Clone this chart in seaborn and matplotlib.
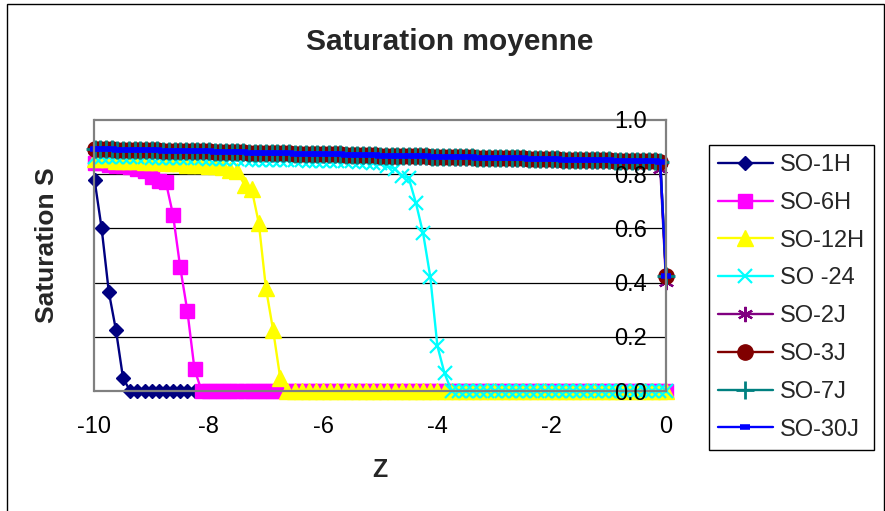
import matplotlib
matplotlib.use("Agg")
import matplotlib.pyplot as plt
import seaborn as sns
from matplotlib.patches import Rectangle

# ---------------- data ----------------
# depth grid of the hourly series (step 0.125)
z_h = [-10.0, -9.875, -9.75, -9.625, -9.5, -9.375, -9.25, -9.125,
       -9.0, -8.875, -8.75, -8.625, -8.5, -8.375, -8.25, -8.125,
       -8.0, -7.875, -7.75, -7.625, -7.5, -7.375, -7.25, -7.125,
       -7.0, -6.875, -6.75, -6.625, -6.5, -6.375, -6.25, -6.125,
       -6.0, -5.875, -5.75, -5.625, -5.5, -5.375, -5.25, -5.125,
       -5.0, -4.875, -4.75, -4.625, -4.5, -4.375, -4.25, -4.125,
       -4.0, -3.875, -3.75, -3.625, -3.5, -3.375, -3.25, -3.125,
       -3.0, -2.875, -2.75, -2.625, -2.5, -2.375, -2.25, -2.125,
       -2.0, -1.875, -1.75, -1.625, -1.5, -1.375, -1.25, -1.125,
       -1.0, -0.875, -0.75, -0.625, -0.5, -0.375, -0.25, -0.125,
       0.0]

# depth grid of the daily series (step 0.1)
z_j = [-10.0, -9.9, -9.8, -9.7, -9.6, -9.5, -9.4, -9.3, -9.2, -9.1,
       -9.0, -8.9, -8.8, -8.7, -8.6, -8.5, -8.4, -8.3, -8.2, -8.1,
       -8.0, -7.9, -7.8, -7.7, -7.6, -7.5, -7.4, -7.3, -7.2, -7.1,
       -7.0, -6.9, -6.8, -6.7, -6.6, -6.5, -6.4, -6.3, -6.2, -6.1,
       -6.0, -5.9, -5.8, -5.7, -5.6, -5.5, -5.4, -5.3, -5.2, -5.1,
       -5.0, -4.9, -4.8, -4.7, -4.6, -4.5, -4.4, -4.3, -4.2, -4.1,
       -4.0, -3.9, -3.8, -3.7, -3.6, -3.5, -3.4, -3.3, -3.2, -3.1,
       -3.0, -2.9, -2.8, -2.7, -2.6, -2.5, -2.4, -2.3, -2.2, -2.1,
       -2.0, -1.9, -1.8, -1.7, -1.6, -1.5, -1.4, -1.3, -1.2, -1.1,
       -1.0, -0.9, -0.8, -0.7, -0.6, -0.5, -0.4, -0.3, -0.2, -0.1,
       0.0]

so_1h = [0.78, 0.60, 0.366, 0.225, 0.047, 0.0, 0.0, 0.0,
         0.0, 0.0, 0.0, 0.0, 0.0, 0.0, 0.0, 0.0,
         0.0, 0.0, 0.0, 0.0, 0.0, 0.0, 0.0, 0.0,
         0.0, 0.0, 0.0, 0.0, 0.0, 0.0, 0.0, 0.0,
         0.0, 0.0, 0.0, 0.0, 0.0, 0.0, 0.0, 0.0,
         0.0, 0.0, 0.0, 0.0, 0.0, 0.0, 0.0, 0.0,
         0.0, 0.0, 0.0, 0.0, 0.0, 0.0, 0.0, 0.0,
         0.0, 0.0, 0.0, 0.0, 0.0, 0.0, 0.0, 0.0,
         0.0, 0.0, 0.0, 0.0, 0.0, 0.0, 0.0, 0.0,
         0.0, 0.0, 0.0, 0.0, 0.0, 0.0, 0.0, 0.0,
         0.0]

so_6h = [0.84, 0.84, 0.835, 0.83, 0.83, 0.825, 0.82, 0.81,
         0.79, 0.775, 0.77, 0.649, 0.456, 0.295, 0.08, 0.0,
         0.0, 0.0, 0.0, 0.0, 0.0, 0.0, 0.0, 0.0,
         0.0, 0.0, 0.0, 0.0, 0.0, 0.0, 0.0, 0.0,
         0.0, 0.0, 0.0, 0.0, 0.0, 0.0, 0.0, 0.0,
         0.0, 0.0, 0.0, 0.0, 0.0, 0.0, 0.0, 0.0,
         0.0, 0.0, 0.0, 0.0, 0.0, 0.0, 0.0, 0.0,
         0.0, 0.0, 0.0, 0.0, 0.0, 0.0, 0.0, 0.0,
         0.0, 0.0, 0.0, 0.0, 0.0, 0.0, 0.0, 0.0,
         0.0, 0.0, 0.0, 0.0, 0.0, 0.0, 0.0, 0.0,
         0.0]

so_12h = [0.855, 0.855, 0.855, 0.85, 0.85, 0.85, 0.85, 0.845,
          0.845, 0.845, 0.84, 0.84, 0.84, 0.835, 0.835, 0.835,
          0.83, 0.83, 0.825, 0.815, 0.81, 0.76, 0.745, 0.619,
          0.379, 0.225, 0.048, 0.0, 0.0, 0.0, 0.0, 0.0,
          0.0, 0.0, 0.0, 0.0, 0.0, 0.0, 0.0, 0.0,
          0.0, 0.0, 0.0, 0.0, 0.0, 0.0, 0.0, 0.0,
          0.0, 0.0, 0.0, 0.0, 0.0, 0.0, 0.0, 0.0,
          0.0, 0.0, 0.0, 0.0, 0.0, 0.0, 0.0, 0.0,
          0.0, 0.0, 0.0, 0.0, 0.0, 0.0, 0.0, 0.0,
          0.0, 0.0, 0.0, 0.0, 0.0, 0.0, 0.0, 0.0,
          0.0]

so_24 = [0.865, 0.865, 0.864, 0.864, 0.863, 0.863, 0.862, 0.862,
         0.861, 0.861, 0.860, 0.860, 0.859, 0.859, 0.858, 0.858,
         0.857, 0.857, 0.856, 0.856, 0.855, 0.855, 0.854, 0.854,
         0.853, 0.853, 0.852, 0.852, 0.851, 0.851, 0.850, 0.850,
         0.849, 0.849, 0.848, 0.848, 0.847, 0.846, 0.845, 0.843,
         0.84, 0.83, 0.82, 0.795, 0.785, 0.693, 0.582, 0.422,
         0.166, 0.065, 0.0, 0.0, 0.0, 0.0, 0.0, 0.0,
         0.0, 0.0, 0.0, 0.0, 0.0, 0.0, 0.0, 0.0,
         0.0, 0.0, 0.0, 0.0, 0.0, 0.0, 0.0, 0.0,
         0.0, 0.0, 0.0, 0.0, 0.0, 0.0, 0.0, 0.0,
         0.0]

so_2j = [0.891, 0.891, 0.890, 0.890, 0.889, 0.889, 0.888, 0.888, 0.887, 0.887,
         0.886, 0.886, 0.885, 0.885, 0.884, 0.884, 0.883, 0.883, 0.883, 0.882,
         0.882, 0.881, 0.881, 0.880, 0.880, 0.879, 0.879, 0.878, 0.878, 0.877,
         0.877, 0.876, 0.876, 0.875, 0.875, 0.874, 0.874, 0.874, 0.873, 0.873,
         0.872, 0.872, 0.871, 0.871, 0.870, 0.870, 0.869, 0.869, 0.868, 0.868,
         0.867, 0.867, 0.866, 0.866, 0.866, 0.865, 0.865, 0.864, 0.864, 0.863,
         0.863, 0.862, 0.862, 0.861, 0.861, 0.860, 0.860, 0.859, 0.859, 0.858,
         0.858, 0.858, 0.857, 0.857, 0.856, 0.856, 0.855, 0.855, 0.854, 0.854,
         0.853, 0.853, 0.852, 0.852, 0.851, 0.851, 0.850, 0.850, 0.849, 0.849,
         0.849, 0.848, 0.848, 0.847, 0.847, 0.846, 0.846, 0.845, 0.845, 0.820,
         0.404]

so_3j = [0.893, 0.893, 0.892, 0.892, 0.891, 0.891, 0.890, 0.890, 0.889, 0.889,
         0.888, 0.888, 0.887, 0.887, 0.886, 0.886, 0.885, 0.885, 0.885, 0.884,
         0.884, 0.883, 0.883, 0.882, 0.882, 0.881, 0.881, 0.880, 0.880, 0.879,
         0.879, 0.878, 0.878, 0.877, 0.877, 0.876, 0.876, 0.876, 0.875, 0.875,
         0.874, 0.874, 0.873, 0.873, 0.872, 0.872, 0.871, 0.871, 0.870, 0.870,
         0.869, 0.869, 0.868, 0.868, 0.868, 0.867, 0.867, 0.866, 0.866, 0.865,
         0.865, 0.864, 0.864, 0.863, 0.863, 0.862, 0.862, 0.861, 0.861, 0.860,
         0.860, 0.860, 0.859, 0.859, 0.858, 0.858, 0.857, 0.857, 0.856, 0.856,
         0.855, 0.855, 0.854, 0.854, 0.853, 0.853, 0.852, 0.852, 0.851, 0.851,
         0.851, 0.850, 0.850, 0.849, 0.849, 0.848, 0.848, 0.847, 0.847, 0.846,
         0.426]

so_7j = [0.893, 0.893, 0.892, 0.892, 0.891, 0.891, 0.890, 0.890, 0.889, 0.889,
         0.888, 0.888, 0.887, 0.887, 0.886, 0.886, 0.885, 0.885, 0.885, 0.884,
         0.884, 0.883, 0.883, 0.882, 0.882, 0.881, 0.881, 0.880, 0.880, 0.879,
         0.879, 0.878, 0.878, 0.877, 0.877, 0.876, 0.876, 0.876, 0.875, 0.875,
         0.874, 0.874, 0.873, 0.873, 0.872, 0.872, 0.871, 0.871, 0.870, 0.870,
         0.869, 0.869, 0.868, 0.868, 0.868, 0.867, 0.867, 0.866, 0.866, 0.865,
         0.865, 0.864, 0.864, 0.863, 0.863, 0.862, 0.862, 0.861, 0.861, 0.860,
         0.860, 0.860, 0.859, 0.859, 0.858, 0.858, 0.857, 0.857, 0.856, 0.856,
         0.855, 0.855, 0.854, 0.854, 0.853, 0.853, 0.852, 0.852, 0.851, 0.851,
         0.851, 0.850, 0.850, 0.849, 0.849, 0.848, 0.848, 0.847, 0.847, 0.846,
         0.425]

so_30j = [0.893, 0.893, 0.892, 0.892, 0.891, 0.891, 0.890, 0.890, 0.889, 0.889,
          0.888, 0.888, 0.887, 0.887, 0.886, 0.886, 0.885, 0.885, 0.885, 0.884,
          0.884, 0.883, 0.883, 0.882, 0.882, 0.881, 0.881, 0.880, 0.880, 0.879,
          0.879, 0.878, 0.878, 0.877, 0.877, 0.876, 0.876, 0.876, 0.875, 0.875,
          0.874, 0.874, 0.873, 0.873, 0.872, 0.872, 0.871, 0.871, 0.870, 0.870,
          0.869, 0.869, 0.868, 0.868, 0.868, 0.867, 0.867, 0.866, 0.866, 0.865,
          0.865, 0.864, 0.864, 0.863, 0.863, 0.862, 0.862, 0.861, 0.861, 0.860,
          0.860, 0.860, 0.859, 0.859, 0.858, 0.858, 0.857, 0.857, 0.856, 0.856,
          0.855, 0.855, 0.854, 0.854, 0.853, 0.853, 0.852, 0.852, 0.851, 0.851,
          0.851, 0.850, 0.850, 0.849, 0.849, 0.848, 0.848, 0.847, 0.847, 0.846,
          0.425]

series_names = ["SO-1H", "SO-6H", "SO-12H", "SO -24",
                "SO-2J", "SO-3J", "SO-7J", "SO-30J"]
x_ticks = [-10, -8, -6, -4, -2, 0]
x_tick_labels = ["-10", "-8", "-6", "-4", "-2", "0"]
y_ticks = [0.0, 0.2, 0.4, 0.6, 0.8, 1.0]
y_tick_labels = ["0.0", "0.2", "0.4", "0.6", "0.8", "1.0"]

# ---------------- style ----------------
sns.set_style("white")
plt.rcParams["font.family"] = ["Liberation Sans", "DejaVu Sans"]
plt.rcParams["axes.unicode_minus"] = False

W, H = 885, 511
fig = plt.figure(figsize=(W / 100, H / 100), dpi=100)
fig.patch.set_facecolor("white")

x0, x1 = 94.5, 666.0
y0, y1 = 391.0, 120.0
ax = fig.add_axes([x0 / W, 1 - y0 / H, (x1 - x0) / W, (y0 - y1) / H])
ax.set_facecolor("white")

series = [
    (z_h, so_1h, dict(color="#000080", marker="D", markersize=6.8, markeredgewidth=1.0)),
    (z_h, so_6h, dict(color="#FF00FF", marker="s", markersize=10.5, markeredgewidth=1.0)),
    (z_h, so_12h, dict(color="#FFFF00", marker="^", markersize=11, markeredgewidth=1.0)),
    (z_h, so_24, dict(color="#00FFFF", marker="x", markersize=10, markeredgewidth=1.6)),
    (z_j, so_2j, dict(color="#800080", marker=(6, 2, 0), markersize=11, markeredgewidth=1.6)),
    (z_j, so_3j, dict(color="#800000", marker="o", markersize=11, markeredgewidth=1.0)),
    (z_j, so_7j, dict(color="#008080", marker="+", markersize=12.5, markeredgewidth=2.0)),
    (z_j, so_30j, dict(color="#0000FF", marker="_", markersize=7, markeredgewidth=4.0)),
]

# horizontal gridlines below the curves
for yv in y_ticks[1:-1]:
    ax.axhline(yv, color="black", linewidth=0.9, zorder=1)

for name, (zz, vals, st) in zip(series_names, series):
    sns.lineplot(x=zz, y=vals, ax=ax, label=name, linewidth=1.7,
                 markeredgecolor=st["color"], markerfacecolor=st["color"],
                 errorbar=None, clip_on=False, zorder=2, **st)

ax.set_xlim(-10, 0)
ax.set_ylim(0, 1)
ax.set_axisbelow(False)
ax.grid(False)

ax.set_xticks(x_ticks)
ax.set_xticklabels(x_tick_labels)
ax.set_yticks(y_ticks)
ax.set_yticklabels(y_tick_labels)

# y axis sits at z = 0 (right side), labels on its left
ax.spines["left"].set_position(("data", 0))
ax.spines["right"].set_position(("data", -10))
for s in ["left", "right", "top", "bottom"]:
    ax.spines[s].set_color("#808080")
    ax.spines[s].set_linewidth(1.6)

ax.tick_params(axis="y", direction="out", length=5.5, width=1.0,
               color="#404040", pad=8, labelsize=17, labelcolor="black")
ax.tick_params(axis="x", direction="out", length=5, width=1.0,
               color="#404040", pad=13, labelsize=17, labelcolor="black")

fig.suptitle("Saturation moyenne", x=450 / W, y=1 - 42 / H, va="center",
             ha="center", fontsize=21.5, fontweight="bold")

ax.set_xlabel("Z", fontsize=18, fontweight="bold")
ax.xaxis.set_label_coords((380 - x0) / (x1 - x0), (y0 - 470) / (y0 - y1))
ax.xaxis.label.set_va("center")

ax.set_ylabel("Saturation S", fontsize=19, fontweight="bold")
ax.yaxis.set_label_coords((47 - x0) / (x1 - x0), (y0 - 245) / (y0 - y1))
ax.yaxis.label.set_va("center")
ax.yaxis.label.set_ha("center")

leg = ax.legend(loc="upper left", bbox_to_anchor=(709 / W, 1 - 145 / H),
                bbox_transform=fig.transFigure, fontsize=17, frameon=True,
                fancybox=False, edgecolor="black", framealpha=1,
                borderaxespad=0, handlelength=2.33, handletextpad=0.28,
                labelspacing=0.67, borderpad=0.38)
leg.get_frame().set_linewidth(1.0)
leg.set_zorder(5)

# chart-area frame
fig.add_artist(Rectangle((7 / W, -0.02), (884 - 7) / W, 1 - 4 / H + 0.02,
                         transform=fig.transFigure, fill=False,
                         edgecolor="black", linewidth=1.0))

fig.savefig("out.png", dpi=100, facecolor="white")
